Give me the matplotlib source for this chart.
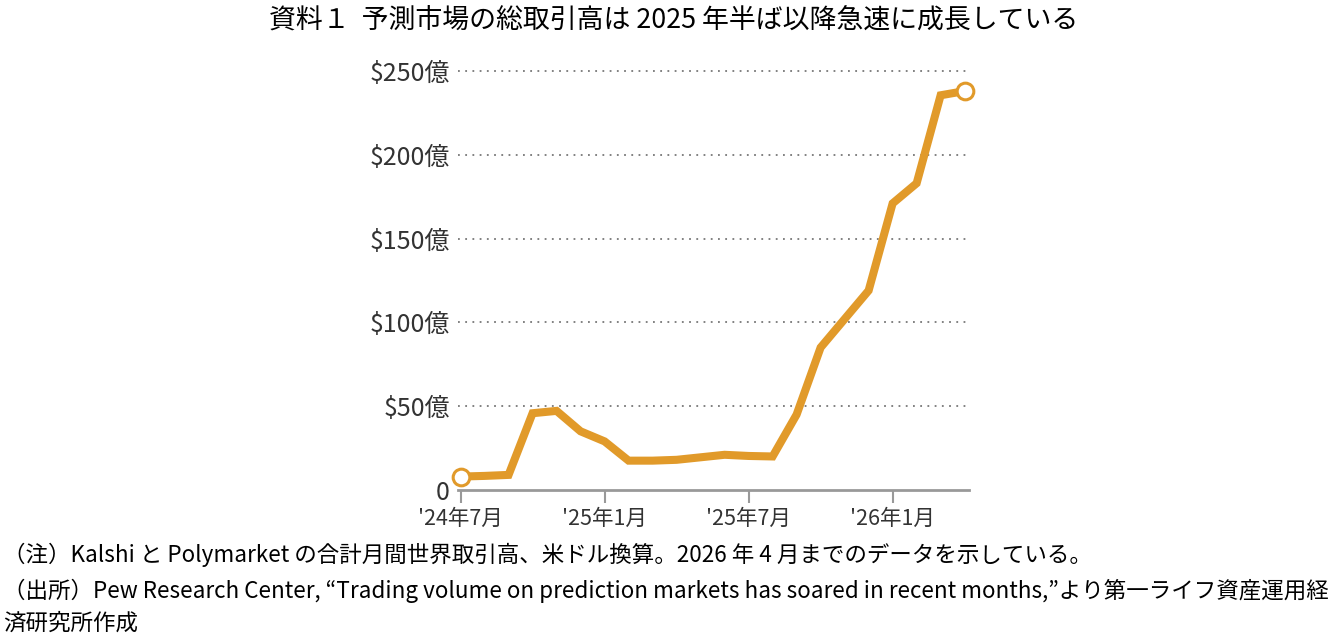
import matplotlib
matplotlib.use("Agg")
import matplotlib.pyplot as plt

plt.rcParams['font.family'] = ['Noto Sans CJK JP', 'DejaVu Sans']

# monthly total trading volume (100 million USD), Jul 2024 - Apr 2026
months = list(range(22))
volume = [8, 8.4, 9, 45.8, 47.2, 35, 29, 17.5, 17.5, 18, 19.5, 21,
          20.3, 20, 45, 85, 102, 119, 171, 183, 235.5, 238]
xtick_pos = [0, 6, 12, 18]
xtick_labels = ["'24年7月", "'25年1月", "'25年7月", "'26年1月"]
ytick_vals = [0, 50, 100, 150, 200, 250]
ytick_labels = ['0', '$50億', '$100億', '$150億', '$200億', '$250億']

title = "資料１  予測市場の総取引高は 2025 年半ば以降急速に成長している"
note1 = "（注）Kalshi と Polymarket の合計月間世界取引高、米ドル換算。2026 年 4 月までのデータを示している。"
note2 = ("（出所）Pew Research Center, “Trading volume on prediction markets has soared "
         "in recent months,”より第一ライフ資産運用経")
note3 = "済研究所作成"

line_color = '#E19A2A'
text_color = '#333333'

fig = plt.figure(figsize=(13.28, 6.38), dpi=100)
ax = fig.add_axes([0.345, 0.232, 0.385, 0.662])

# dotted grid lines first so the line sits on top
for v in ytick_vals[1:]:
    ax.axhline(v, color='#777777', linestyle=(0, (1, 3)), linewidth=1.3, zorder=1)

ax.plot(months, volume, color=line_color, linewidth=5.8,
        solid_joinstyle='miter', solid_capstyle='butt', zorder=3, clip_on=False)
ax.plot([months[0], months[-1]], [volume[0], volume[-1]], linestyle='none',
        marker='o', markersize=12, markerfacecolor='white',
        markeredgecolor=line_color, markeredgewidth=2.2, zorder=4, clip_on=False)

ax.set_xlim(-0.1, 21.2)
ax.set_ylim(0, 252)
ax.set_xticks(xtick_pos)
ax.set_xticklabels(xtick_labels, fontsize=15.5, color=text_color)
ax.set_yticks(ytick_vals)
ax.set_yticklabels(ytick_labels, fontsize=18, color=text_color)

for s in ['top', 'right', 'left']:
    ax.spines[s].set_visible(False)
ax.spines['bottom'].set_color('#999999')
ax.spines['bottom'].set_linewidth(2)
ax.tick_params(axis='x', length=9, width=1.5, color='#999999', pad=4)
ax.tick_params(axis='y', length=0, pad=6)

fig.text(0.5075, 1 - 20 / 638, title, fontsize=19.4, ha='center', va='center',
         color='black')
fig.text(0.002, 1 - 555 / 638, note1, fontsize=16.2, ha='left', va='center')
fig.text(0.002, 1 - 591 / 638, note2, fontsize=16.2, ha='left', va='center')
fig.text(0.002, 1 - 623 / 638, note3, fontsize=16.2, ha='left', va='center')

plt.savefig('out.png', dpi=100)
